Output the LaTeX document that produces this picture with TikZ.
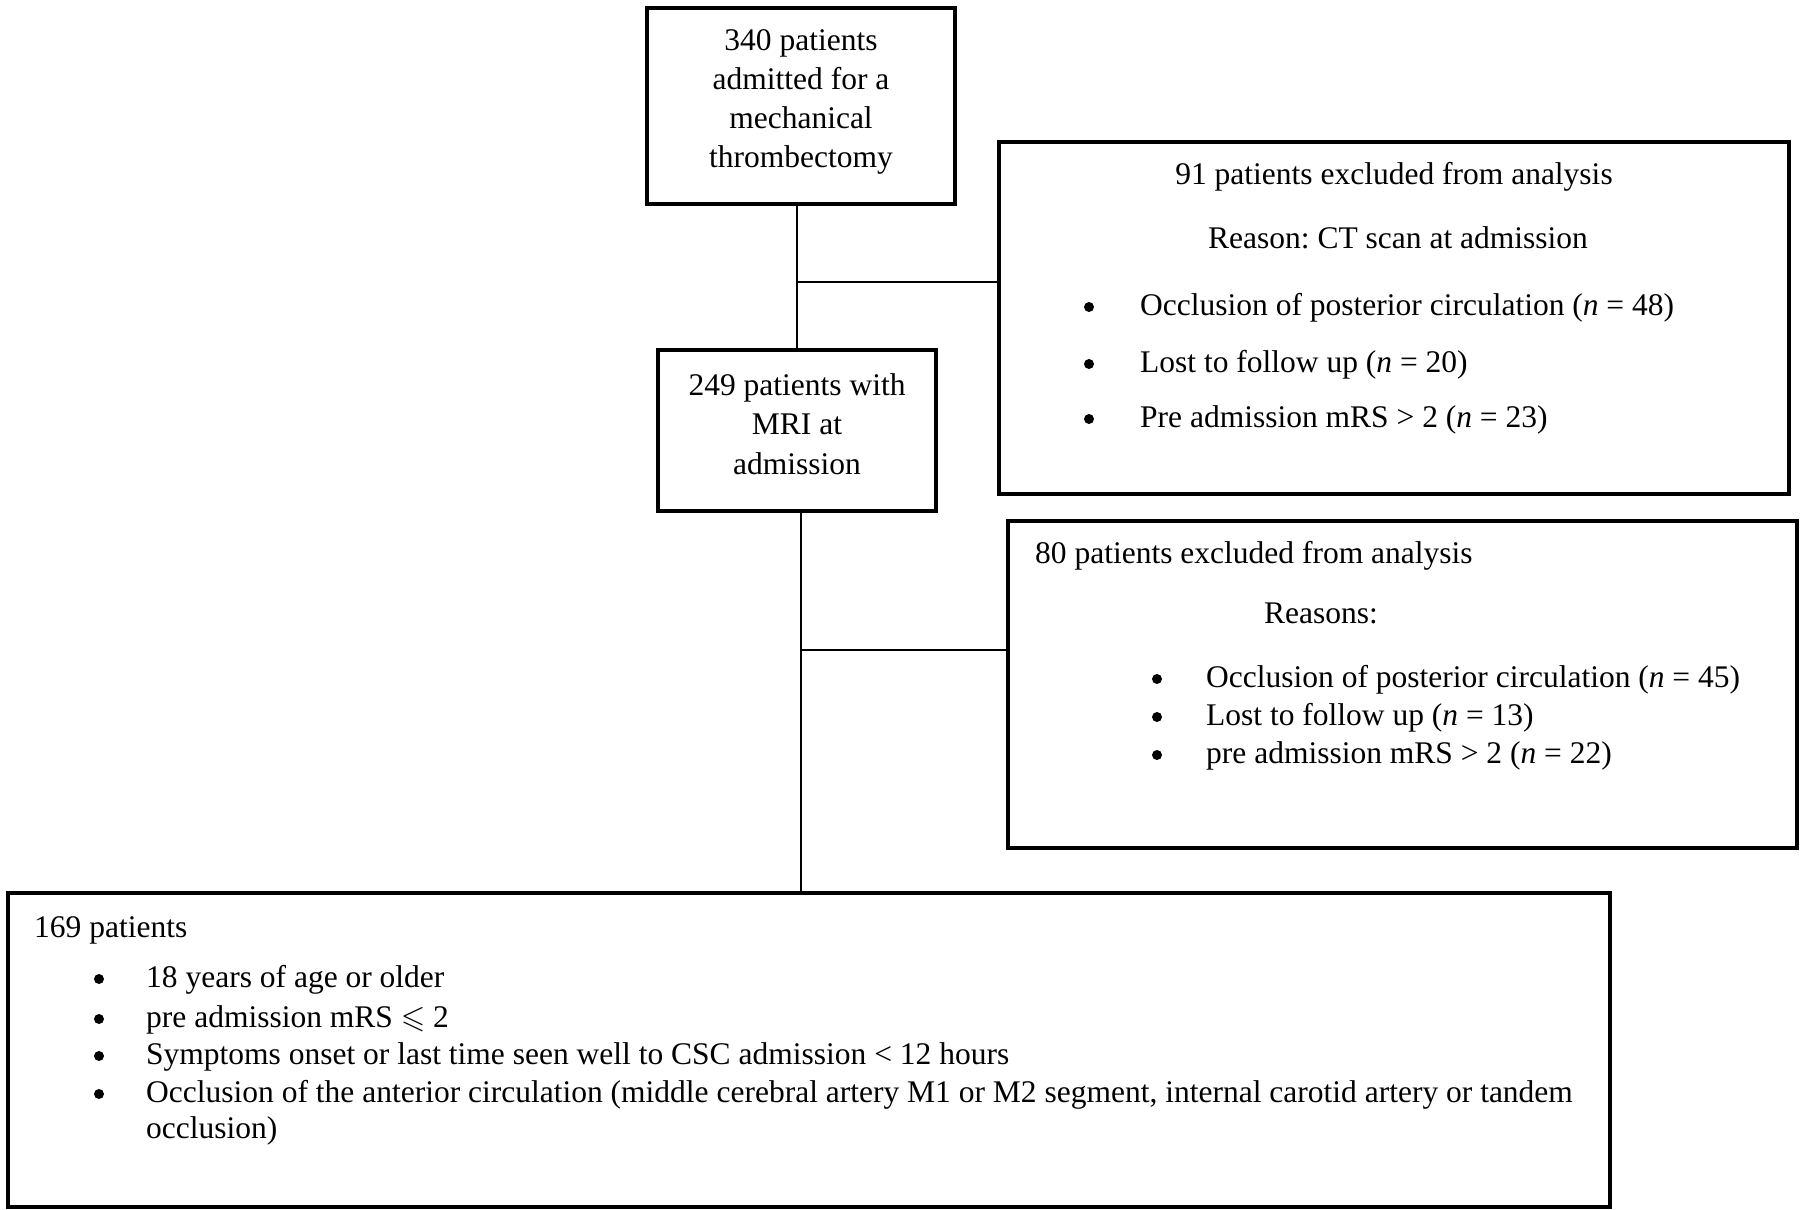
\documentclass[tikz,border=0pt]{standalone}
\usepackage{amssymb}
\usepackage{fontspec}
\setmainfont{Liberation Serif}
\frenchspacing
\begin{document}
\begin{tikzpicture}[x=1pt,y=-1pt,
  box/.style={draw, line width=4pt, inner sep=0pt},
  conn/.style={line width=2.7pt},
  txt/.style={inner sep=0pt, font=\fontsize{31.5}{39}\selectfont},
  ctr/.style={txt, anchor=base},
  lft/.style={txt, anchor=base west},
  bul/.style={circle, fill=black, inner sep=0pt, minimum size=10pt}]
\useasboundingbox (0,0) rectangle (1800,1210);
% boxes
\node[box, minimum width=308pt, minimum height=196pt] (b1) at (801,106) {};
\node[box, minimum width=278pt, minimum height=161pt] (b2) at (797,430.5) {};
\node[box, minimum width=790pt, minimum height=352pt] (b3) at (1394,317.5) {};
\node[box, minimum width=789pt, minimum height=327pt] (b4) at (1402.5,684.5) {};
\node[box, minimum width=1602pt, minimum height=314pt] (b5) at (809,1050) {};
% box 1 text
\node[ctr] (t1a) at (801,50) {340 patients};
\node[ctr] (t1b) at (801,89) {admitted for a};
\node[ctr] (t1c) at (801,128) {mechanical};
\node[ctr] (t1d) at (801,167) {thrombectomy};
% box 2 text
\node[ctr] (t2a) at (797,395) {249 patients with};
\node[ctr] (t2b) at (797,434) {MRI at};
\node[ctr] (t2c) at (797,474) {admission};
% box 3 text
\node[ctr] (t3a) at (1394,184) {91 patients excluded from analysis};
\node[ctr] (t3b) at (1398,248) {Reason: CT scan at admission};
\node[bul] (t3p1) at (1089,307) {};
\node[bul] (t3p2) at (1089,364) {};
\node[bul] (t3p3) at (1089,419) {};
\node[lft] (t3c) at (1140,315) {Occlusion of posterior circulation (\textit{n} = 48)};
\node[lft] (t3d) at (1140,372) {Lost to follow up (\textit{n} = 20)};
\node[lft] (t3e) at (1140,427) {Pre admission mRS > 2 (\textit{n} = 23)};
% box 4 text
\node[lft] (t4a) at (1035,563) {80 patients excluded from analysis};
\node[lft] (t4b) at (1264,623) {Reasons:};
\node[bul] (t4p1) at (1157,679) {};
\node[bul] (t4p2) at (1157,717) {};
\node[bul] (t4p3) at (1157,755) {};
\node[lft] (t4c) at (1206,687) {Occlusion of posterior circulation (\textit{n} = 45)};
\node[lft] (t4d) at (1206,725) {Lost to follow up (\textit{n} = 13)};
\node[lft] (t4e) at (1206,763) {pre admission mRS > 2 (\textit{n} = 22)};
% box 5 text
\node[lft] (t5a) at (34,937) {169 patients};
\node[bul] (t5p1) at (99,979) {};
\node[bul] (t5p2) at (99,1019) {};
\node[bul] (t5p3) at (99,1056) {};
\node[bul] (t5p4) at (99,1094) {};
\node[lft] (t5b) at (146,987) {18 years of age or older};
\node[lft] (t5c) at (146,1027) {pre admission mRS $\leqslant$ 2};
\node[lft] (t5d) at (146,1064) {Symptoms onset or last time seen well to CSC admission < 12 hours};
\node[lft] (t5e) at (146,1102) {Occlusion of the anterior circulation (middle cerebral artery M1 or M2 segment, internal carotid artery or tandem};
\node[lft] (t5f) at (146,1138) {occlusion)};
% connectors
\coordinate (j1) at (797,282);
\coordinate (j2) at (801,650);
\coordinate (v2s) at (801,511);
\draw[conn] (b2.north |- b1.south) -- (b2.north);
\draw[conn] (j1) -- (j1 -| b3.west);
\draw[conn] (v2s) -- (v2s |- b5.north);
\draw[conn] (j2) -- (j2 -| b4.west);
\end{tikzpicture}
\end{document}
